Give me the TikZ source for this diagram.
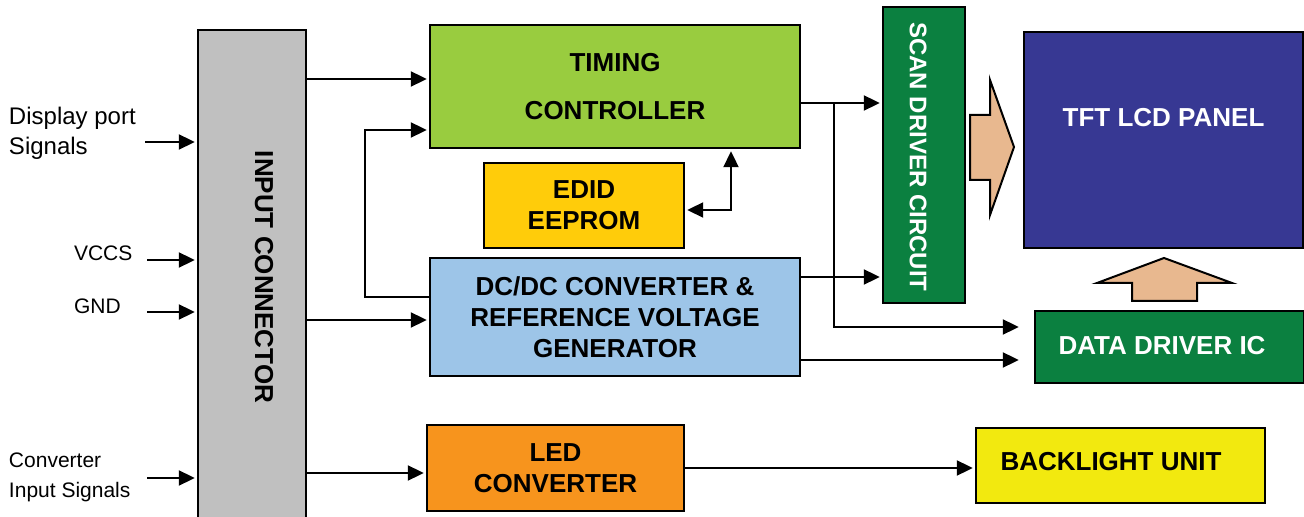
\documentclass[tikz,border=0pt]{standalone}
\usepackage{fontspec}
\setmainfont{Liberation Sans}
\usetikzlibrary{positioning,calc}
\usetikzlibrary{arrows.meta}

\definecolor{conngray}{RGB}{192,192,192}
\definecolor{timgreen}{RGB}{153,204,63}
\definecolor{edidyellow}{RGB}{255,204,10}
\definecolor{dcblue}{RGB}{157,197,232}
\definecolor{ledorange}{RGB}{247,148,29}
\definecolor{drvgreen}{RGB}{11,128,64}
\definecolor{panelblue}{RGB}{55,56,147}
\definecolor{blyellow}{RGB}{242,233,15}
\definecolor{arrowtan}{RGB}{232,184,143}

\begin{document}
\begin{tikzpicture}[> = {Triangle[length = 8pt, width = 7.5pt]}, shorten > = 1pt, x = 0.5pt, y = -0.5pt, line width = 1pt]
\tikzstyle{btext}=[font = \bfseries\fontsize{13}{15.5}\selectfont]
\tikzstyle{block}=[
  draw = black,
  line width = 1.2pt,
  inner sep = 0pt,
  btext,
  align = center
]
\tikzstyle{sig}=[font = \fontsize{10.5}{15}\selectfont, align = left, anchor = west, inner sep = 0pt]

\useasboundingbox (0,0) rectangle (1304,517);
\clip (0,0) rectangle (1304,517);

% blocks
\node[block, fill = conngray, minimum width = 54pt, minimum height = 250pt] (inp) at (252,280) {};
\node[btext, rotate = -90] (inplbl) at (264,277) {INPUT CONNECTOR};
\node[block, fill = timgreen, minimum width = 185pt, minimum height = 61.5pt] (tim) at (615,86.5) {TIMING\\[8.5pt]CONTROLLER};
\node[block, fill = edidyellow, minimum width = 100pt, minimum height = 42.5pt] (edid) at (584,205.5) {EDID\\EEPROM};
\node[block, fill = dcblue, minimum width = 185pt, minimum height = 59pt] (dc) at (615,317) {DC/DC CONVERTER \&\\REFERENCE VOLTAGE\\GENERATOR};
\node[block, fill = ledorange, minimum width = 128.5pt, minimum height = 43pt] (led) at (555.5,468) {LED\\CONVERTER};
\node[block, fill = drvgreen, minimum width = 41pt, minimum height = 148pt] (scan) at (924,155) {};
\node[text = white, rotate = -90, font = \bfseries\fontsize{12}{14}\selectfont] (scanlbl) at (918,157) {SCAN DRIVER CIRCUIT};
\node[block, fill = panelblue, minimum width = 139.5pt, minimum height = 108pt,
  label = {[btext, text = white, yshift = 11pt]center:TFT LCD PANEL}] (tft) at (1163.5,140) {};
\node[block, fill = drvgreen, minimum width = 134.5pt, minimum height = 36pt,
  label = {[btext, text = white, xshift = -3.75pt, yshift = 0.5pt]center:DATA DRIVER IC}] (ddic) at (1169.5,347) {};
\node[block, fill = blyellow, minimum width = 144.5pt, minimum height = 37.5pt,
  label = {[btext, xshift = -4.75pt, yshift = 1.75pt]center:BACKLIGHT UNIT}] (bl) at (1120.5,465.5) {};

% big arrows to the panel
\filldraw[fill = arrowtan, line width = 1pt] (970,115) -- (990,115) -- (990,80) -- (1014,147) -- (990,215) -- (990,180) -- (970,180) -- cycle;
\filldraw[fill = arrowtan, line width = 1pt] (1132,301) -- (1132,283) -- (1097,283) -- (1164,258) -- (1232,283) -- (1197,283) -- (1197,301) -- cycle;

% input signals
\node[sig, font = \fontsize{12}{15}\selectfont] (dp) at (8,133) {Display port\\Signals};
\node[sig] (vccs) at (73,253) {VCCS};
\node[sig] (gnd) at (73,306) {GND};
\node[sig] (cis) at (8,477) {Converter\\Input Signals};

\coordinate (dpin) at (145,142);
\coordinate (vccsin) at (147,260);
\coordinate (gndin) at (147,312);
\coordinate (cisin) at (147,478);
\path[->] (dpin) edge (inp.west |- dpin);
\path[->] (vccsin) edge (inp.west |- vccsin);
\path[->] (gndin) edge (inp.west |- gndin);
\path[->] (cisin) edge (inp.west |- cisin);

% connector outputs
\coordinate (ti1) at ($(tim.west)+(0,-7.5)$);
\coordinate (ti2) at ($(tim.west)+(0,43.5)$);
\coordinate (dci) at ($(dc.west)+(0,3)$);
\coordinate (ledi) at ($(led.west)+(0,5)$);
\path[->] (inp.east |- ti1) edge (ti1);
\path[->] (inp.east |- dci) edge (dci);
\path[->] (inp.east |- ledi) edge (ledi);
\draw[->] ($(dc.west)+(0,-20)$) -- ++(-64,0) |- (ti2);

% timing controller
\draw[<->, shorten < = 1pt] ($(tim.south)+(116,0)$) |- ($(edid.east)+(0,4.5)$);
\coordinate (tco) at ($(tim.east)+(0,16.5)$);
\coordinate (ddi1) at ($(ddic.west)+(-13,-20)$);
\path[->] (tco) edge (scan.west |- tco);
\draw[->] ($(tco)+(33,0)$) |- (ddi1);

% dc/dc converter
\coordinate (dco1) at ($(dc.east)+(0,-40)$);
\coordinate (ddi2) at ($(ddic.west)+(-13,13)$);
\path[->] (dco1) edge (scan.west |- dco1);
\path[->] (dc.east |- ddi2) edge (ddi2);

% led converter
\path[->] (led.east) edge (bl.west |- led.east);
\end{tikzpicture}
\end{document}
